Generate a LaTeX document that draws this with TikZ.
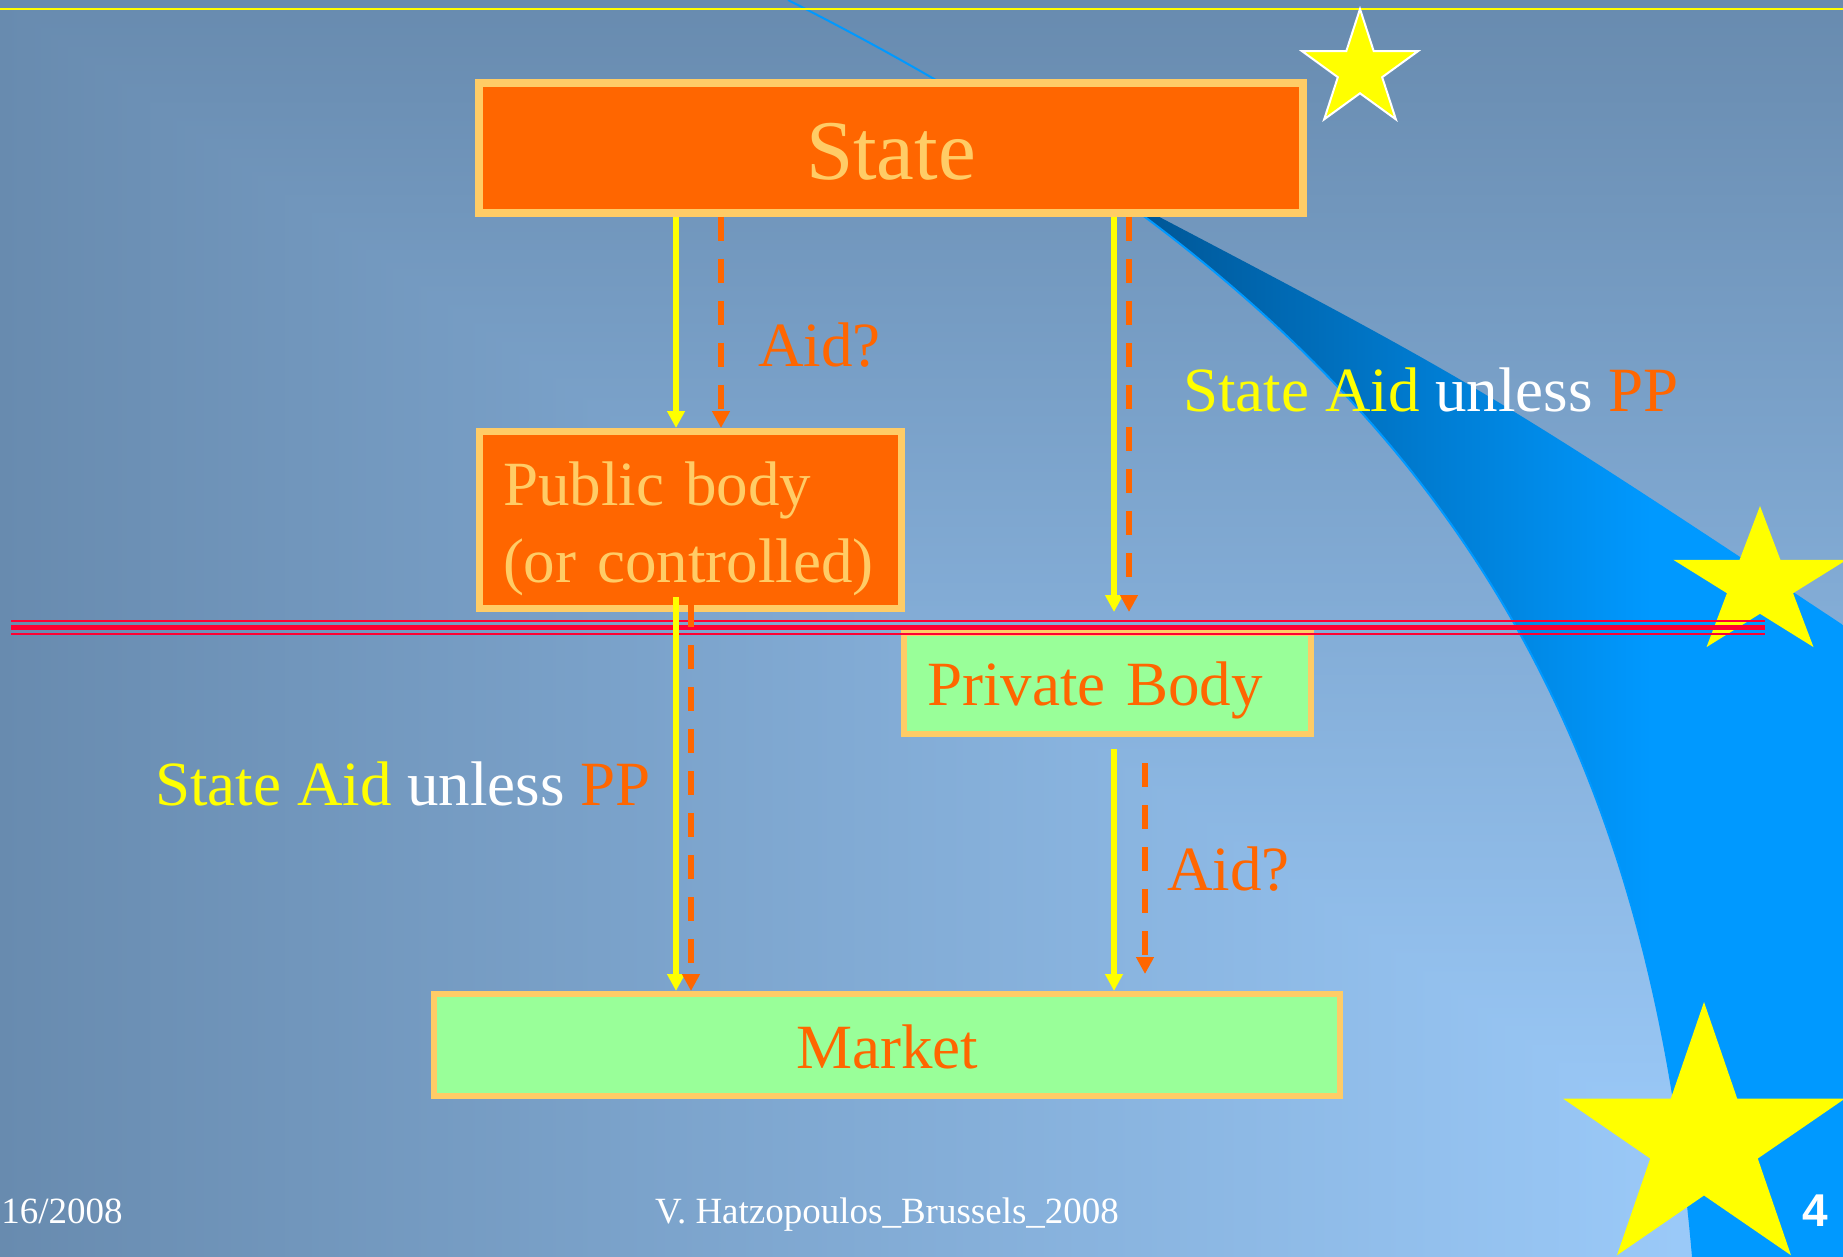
\documentclass[tikz,border=0pt]{standalone}
\usepackage{fontspec}
\setmainfont{Liberation Serif}
\newfontfamily\slidenumfont{Liberation Sans}
\usetikzlibrary{calc}
\usetikzlibrary{arrows.meta}

\definecolor{bgdark}{HTML}{688BAF}
\definecolor{bglight}{HTML}{9FCFFF}
\definecolor{swooshdark}{HTML}{00528F}
\definecolor{swooshbright}{HTML}{0099FF}
\definecolor{aidorange}{HTML}{FF6600}
\definecolor{aidyellow}{HTML}{FFFF00}
\definecolor{boxedge}{HTML}{FFCC66}
\definecolor{boxgreen}{HTML}{99FF99}
\definecolor{dividerred}{HTML}{FF0033}

\pgfdeclarehorizontalshading{swoosh}{100bp}{color(0bp)=(swooshdark); color(25bp)=(swooshdark); color(62bp)=(swooshbright); color(100bp)=(swooshbright)}

\newcommand\aidfont{\fontsize{31.5}{38.5}\selectfont}
% star: [style]{cx}{cy}{rx}{ry}
\newcommand\eustar[5][]{\path [#1] (#2,#3) +(0,-#5) \foreach \k in {1,...,9}{ -- +({(1-0.618*mod(\k,2))*#4*cos(36*\k-90)},{(1-0.618*mod(\k,2))*#5*sin(36*\k-90)}) } -- cycle;}

\tikzstyle{slidebox} = [rectangle,draw=boxedge,inner sep=0pt]
\tikzstyle{govbox} = [slidebox,fill=aidorange,text=boxedge,line width=3.5pt]
\tikzstyle{mktbox} = [slidebox,fill=boxgreen,text=aidorange,line width=3pt]
\tikzstyle{aidline} = [draw=aidyellow,line width=3pt,->]
\tikzstyle{aiddash} = [aidline,draw=aidorange,line width=3.2pt,dash pattern=on 12pt off 9pt]
\tikzstyle{lbl} = [anchor=base west,inner sep=0pt,font=\aidfont]
\tikzset{>={Triangle[width=8.5pt,length=8.5pt]}}

\begin{document}
\begin{tikzpicture}[x=0.5pt,y=-0.5pt]
  \useasboundingbox (0,0) rectangle (1843,1257);

  % backdrop
  \shade [left color=bgdark,right color=bglight] (0,0) rectangle (1843,1257);
  \shade [top color=bgdark,bottom color=bglight] (0,0) -- (1843,0) -- (1843,1257) -- cycle;
  \shade [shading=swoosh] (1107.5,189.8) .. controls (1481.2,454.8) and (1651.4,776.2) .. (1693,1257)
    -- (1843,1257) -- (1843,625) .. controls (1480,385) .. (1107.5,189.8) -- cycle;
  \draw [swooshbright,line width=1pt] (788,0) .. controls (1388,304) and (1641,656) .. (1693,1257);
  \draw [aidyellow,line width=1pt] (0,9) -- (1843,9);
  \eustar[fill=aidyellow,draw=white,line width=1pt]{1360}{70}{61}{61}
  \eustar[fill=aidyellow]{1760}{584}{91}{78}
  \eustar[fill=aidyellow]{1704}{1142}{148}{140}

  % boxes
  \node [govbox,line width=4pt,minimum width=412pt,minimum height=65pt,
    font=\fontsize{42.5}{51}\selectfont,text height=32pt,text depth=0pt] (state) at (891,148) {State};
  \node [govbox,minimum height=88.5pt,text width=187.5pt,inner xsep=11.75pt,align=left,
    font=\aidfont,text height=21.5pt,text depth=36.5pt] (pub) at (690.5,520) {Public body\\(or controlled)};
  \node [mktbox,minimum height=50.5pt,text width=180.5pt,inner xsep=11.5pt,align=left,
    font=\aidfont,text height=21.5pt,text depth=0pt] (priv) at (1107.5,683.5) {Private Body};
  \node [mktbox,minimum width=453pt,minimum height=51pt,
    font=\aidfont,text height=23pt,text depth=0pt] (mkt) at (887,1045) {Market};

  % divider
  \draw [dividerred,line width=1.3pt] (11,621) -- (1765,621);
  \draw [dividerred,line width=2.6pt] (11,627.5) -- (1765,627.5);
  \draw [dividerred,line width=1.3pt] (11,634) -- (1765,634);

  % arrow columns
  \coordinate (xA) at (676,0);
  \coordinate (xB) at (721,0);
  \coordinate (xC) at (1114,0);
  \coordinate (xD) at (1129,0);
  \coordinate (xF) at (691,0);
  \coordinate (xH) at (1145,0);

  \draw [aidline] (state.south -| xA) -- (pub.north -| xA);
  \draw [aiddash] (state.south -| xB) -- (pub.north -| xB);
  \draw [aidline] (state.south -| xC) -- ($(priv.north -| xC)+(0,-18)$);
  \draw [aiddash] (state.south -| xD) -- ($(priv.north -| xD)+(0,-18)$);
  \draw [aidline] ($(pub.south -| xA)+(0,-15)$) -- (mkt.north -| xA);
  \draw [aiddash] ($(pub.south -| xF)+(0,-9)$) -- (mkt.north -| xF);
  \draw [aidline] ($(priv.south -| xC)+(0,12)$) -- (mkt.north -| xC);
  \draw [aiddash] ($(priv.south -| xH)+(0,26)$) -- ($(mkt.north -| xH)+(0,-17)$);

  % labels
  \node [lbl,text=aidorange] (aidpub) at (758,366) {Aid?};
  \node [lbl,text=aidorange] (aidpriv) at (1167,890) {Aid?};
  \node [lbl,text=white] (unlesspriv) at (1183,411)
    {\color{aidyellow}State Aid \color{white}unless \color{aidorange}PP};
  \node [lbl,text=white] (unlesspub) at (155,805)
    {\color{aidyellow}State Aid \color{white}unless \color{aidorange}PP};

  % footer
  \node [anchor=base west,inner sep=0pt,text=white,font=\fontsize{18.5}{22}\selectfont] (date) at (1,1223) {16/2008};
  \node [anchor=base,inner sep=0pt,text=white,font=\fontsize{18.5}{22}\selectfont] (author) at (887,1223) {V. Hatzopoulos\_Brussels\_2008};
  \node [anchor=base east,inner sep=0pt,text=white,font=\slidenumfont\bfseries\fontsize{23}{27}\selectfont] (pageno) at (1828,1226) {4};
\end{tikzpicture}
\end{document}
